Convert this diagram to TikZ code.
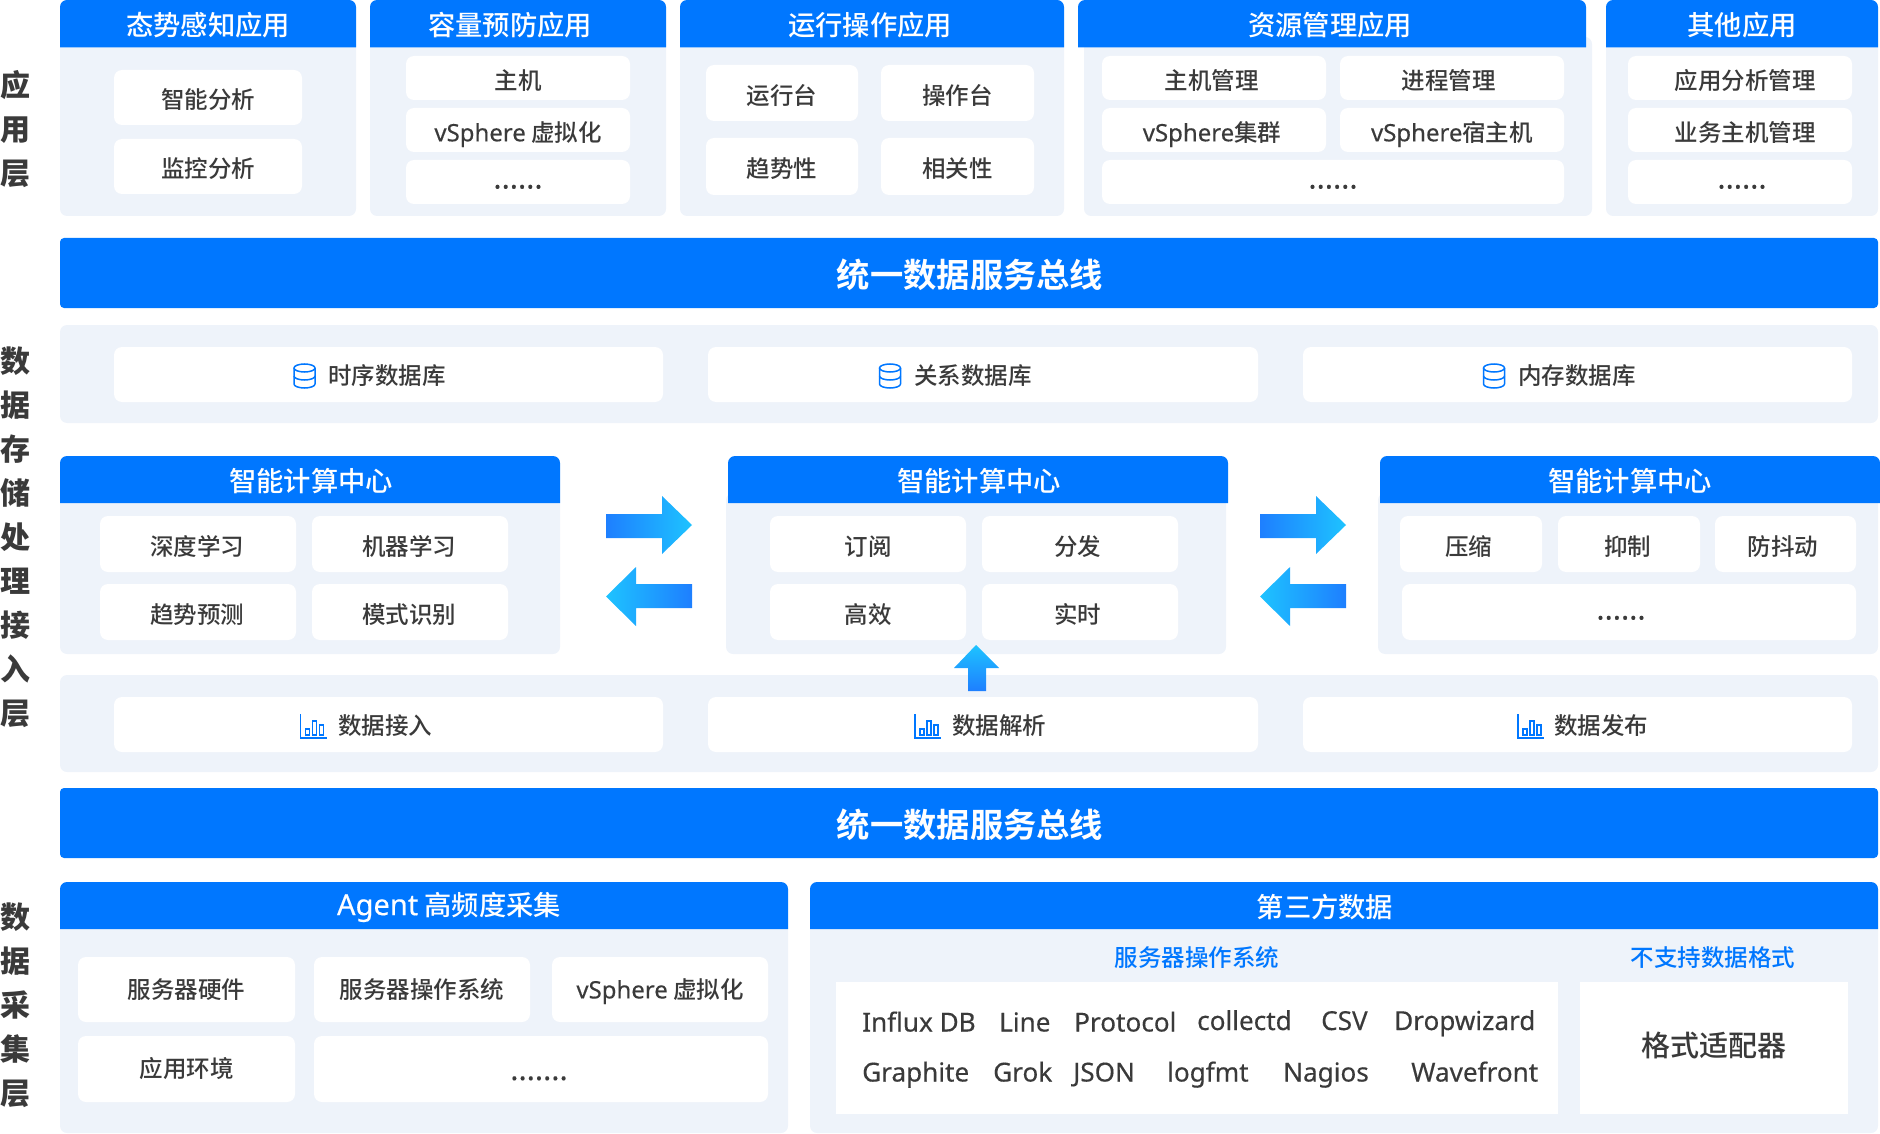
\documentclass[tikz,border=0pt]{standalone}
\usepackage{fontspec}
\setmainfont{Noto Sans CJK SC}[UprightFont=* Medium, BoldFont=* Bold]
\newfontfamily\latinfont{Noto Sans}[FakeBold=0.3, Scale=1.02]
\newfontfamily\labelfont{Noto Sans CJK SC}[UprightFont=* Black]
\definecolor{azulbus}{HTML}{0077FF}
\definecolor{fondopanel}{HTML}{EEF3FA}
\definecolor{textoitem}{HTML}{3A3A3A}
\definecolor{flechaclara}{HTML}{1EC3FF}
\definecolor{flechaazul}{HTML}{1E7FFF}
\newcommand{\puntos}[1]{\latinfont\bfseries\fontsize{30}{34}\selectfont #1}
\tikzset{
  dbicon/.pic={
    \draw[azulbus, line width=1.5pt] (0,-8) ellipse [x radius=10.5pt, y radius=4pt];
    \draw[azulbus, line width=1.5pt] (-10.5,-8) -- (-10.5,8) arc [start angle=180, end angle=360, x radius=10.5pt, y radius=4pt] -- (10.5,-8);
    \draw[azulbus, line width=1.5pt] (-10.5,0) arc [start angle=180, end angle=360, x radius=10.5pt, y radius=4pt];
  },
  charticon/.pic={
    \draw[azulbus, line width=1.5pt] (-13,-12) -- (-13,12) -- (13,12);
    \draw[azulbus, line width=1.2pt] (-8,3) rectangle (-4,9);
    \draw[azulbus, line width=1.2pt] (-1,-5) rectangle (3,9);
    \draw[azulbus, line width=1.2pt] (6,-1) rectangle (10,9);
  }
}
\begin{document}
\begin{tikzpicture}[x=1pt, y=-1pt]
  % Define box and title styles
  \tikzstyle{myboxpanel} = [fill=fondopanel, rectangle, rounded corners=7pt, inner sep=0pt, outer sep=0pt]
  \tikzstyle{myboxitem} = [fill=white, rectangle, rounded corners=8pt, inner sep=0pt, outer sep=0pt, text=textoitem, text height=26.6pt, text depth=4pt, font=\fontsize{23.5}{28}\selectfont]
  \tikzstyle{myboxdots} = [myboxitem, text height=17pt]
  \tikzstyle{myboxagent} = [myboxitem, text height=21.8pt]
  \tikzstyle{myboxflat} = [myboxitem, rounded corners=0pt]
  \tikzstyle{myboxbus} = [fill=azulbus, rectangle, rounded corners=4pt, inner sep=0pt, outer sep=0pt, minimum width=1818pt, minimum height=70pt]
  \tikzstyle{fancyhead} = [fill=azulbus, rounded corners=7pt]
  \tikzstyle{fancytitle} = [text=white, inner sep=0pt, font=\fontsize{27.3}{32}\selectfont]
  \tikzstyle{bustitle} = [text=white, inner sep=0pt, font=\bfseries\fontsize{33.3}{38}\selectfont]
  \tikzstyle{layertitle} = [text=textoitem, inner sep=0pt, align=center, font=\labelfont\fontsize{30}{44}\selectfont]
  \tikzstyle{subtitle} = [text=azulbus, inner sep=0pt, font=\fontsize{23.5}{28}\selectfont]
  \tikzstyle{rowtext} = [text=textoitem, inner sep=0pt, font=\fontsize{23.5}{28}\selectfont]
  \tikzstyle{fmttext} = [text=textoitem, inner sep=0pt, anchor=base west, font=\latinfont\fontsize{25.6}{30}\selectfont]

  \useasboundingbox (0,0) rectangle (1880,1134);

  % layer names
  \node[layertitle] (layerapp) at (16,129) {应\\用\\层};
  \node[layertitle] (layerdata) at (16,537) {数\\据\\存\\储\\处\\理\\接\\入\\层};
  \node[layertitle] (layercol) at (16,1005) {数\\据\\采\\集\\层};

  % application layer
  \node[myboxpanel, minimum width=296pt, minimum height=179pt] (panelsit) at (208,126.5) {};
  \fill[fancyhead] (60,47.5) -- (60,0) -- (356,0) [sharp corners] -- (356,47.5) -- cycle;
  \node[fancytitle] (titlesit) at (208,25) {态势感知应用};
  \node[myboxitem, minimum width=188pt, minimum height=55pt] (itemsit1) at (208,97.5) {智能分析};
  \node[myboxitem, minimum width=188pt, minimum height=55pt] (itemsit2) at (208,166.5) {监控分析};

  \node[myboxpanel, minimum width=296pt, minimum height=179pt] (panelcap) at (518,126.5) {};
  \fill[fancyhead] (370,47.5) -- (370,0) -- (666,0) [sharp corners] -- (666,47.5) -- cycle;
  \node[fancytitle] (titlecap) at (510,25) {容量预防应用};
  \node[myboxitem, minimum width=224pt, minimum height=44pt] (itemcap1) at (518,78) {主机};
  \node[myboxitem, minimum width=224pt, minimum height=44pt] (itemcap2) at (518,130) {{\latinfont vSphere} 虚拟化};
  \node[myboxdots, minimum width=224pt, minimum height=44pt] (itemcap3) at (518,182) {\puntos{......}};

  \node[myboxpanel, minimum width=384pt, minimum height=179pt] (panelops) at (872,126.5) {};
  \fill[fancyhead] (680,47.5) -- (680,0) -- (1064,0) [sharp corners] -- (1064,47.5) -- cycle;
  \node[fancytitle] (titleops) at (870,25) {运行操作应用};
  \node[myboxitem, minimum width=152pt, minimum height=56pt] (itemops1) at (782,93) {运行台};
  \node[myboxitem, minimum width=153pt, minimum height=56pt] (itemops2) at (957.5,93) {操作台};
  \node[myboxitem, minimum width=152pt, minimum height=57pt] (itemops3) at (782,166.5) {趋势性};
  \node[myboxitem, minimum width=153pt, minimum height=57pt] (itemops4) at (957.5,166.5) {相关性};

  \node[myboxpanel, minimum width=508pt, minimum height=179pt] (panelres) at (1338,126.5) {};
  \fill[fancyhead] (1078,47.5) -- (1078,0) -- (1586,0) [sharp corners] -- (1586,47.5) -- cycle;
  \node[fancytitle] (titleres) at (1330,25) {资源管理应用};
  \node[myboxitem, minimum width=224pt, minimum height=44pt] (itemres1) at (1214,78) {\hspace*{-5pt}主机管理};
  \node[myboxitem, minimum width=224pt, minimum height=44pt] (itemres2) at (1452,78) {\hspace*{-7pt}进程管理};
  \node[myboxitem, minimum width=224pt, minimum height=44pt] (itemres3) at (1214,130) {\hspace*{-4pt}{\latinfont vSphere}集群};
  \node[myboxitem, minimum width=224pt, minimum height=44pt] (itemres4) at (1452,130) {{\latinfont vSphere}宿主机};
  \node[myboxdots, minimum width=462pt, minimum height=44pt] (itemres5) at (1333,182) {\puntos{......}};

  \node[myboxpanel, minimum width=272pt, minimum height=179pt] (paneloth) at (1742,126.5) {};
  \fill[fancyhead] (1606,47.5) -- (1606,0) -- (1878,0) [sharp corners] -- (1878,47.5) -- cycle;
  \node[fancytitle] (titleoth) at (1742,25) {其他应用};
  \node[myboxitem, minimum width=224pt, minimum height=44pt] (itemoth1) at (1740,78) {\hspace*{10pt}应用分析管理};
  \node[myboxitem, minimum width=224pt, minimum height=44pt] (itemoth2) at (1740,130) {\hspace*{10pt}业务主机管理};
  \node[myboxdots, minimum width=224pt, minimum height=44pt] (itemoth3) at (1740,182) {\hspace*{4pt}\puntos{......}};

  % upper bus
  \node[myboxbus] (busup) at (969,273) {};
  \node[bustitle] (busuptext) at (970,275) {统一数据服务总线};

  % storage row
  \node[myboxpanel, minimum width=1818pt, minimum height=98pt] (panelstore) at (969,374) {};
  \node[myboxitem, minimum width=549pt, minimum height=55pt] (itemstore1) at (388.5,374.5) {};
  \node[myboxitem, minimum width=550pt, minimum height=55pt] (itemstore2) at (983,374.5) {};
  \node[myboxitem, minimum width=549pt, minimum height=55pt] (itemstore3) at (1577.5,374.5) {};
  \pic at (304.5,376) {dbicon};
  \pic at (890,376) {dbicon};
  \pic at (1494,376) {dbicon};
  \node[rowtext] (textstore1) at (387,376) {时序数据库};
  \node[rowtext] (textstore2) at (973,376) {关系数据库};
  \node[rowtext] (textstore3) at (1577,376) {内存数据库};

  % computing row
  \node[myboxpanel, minimum width=500pt, minimum height=161pt] (panelleft) at (310,573.5) {};
  \fill[fancyhead] (60,503) -- (60,456) -- (560,456) [sharp corners] -- (560,503) -- cycle;
  \node[fancytitle] (titleleft) at (311,481) {智能计算中心};
  \node[myboxitem, minimum width=196pt, minimum height=56pt] (itemleft1) at (198,544) {\hspace*{-2pt}深度学习};
  \node[myboxitem, minimum width=196pt, minimum height=56pt] (itemleft2) at (410,544) {\hspace*{-2pt}机器学习};
  \node[myboxitem, minimum width=196pt, minimum height=56pt] (itemleft3) at (198,612) {\hspace*{-2pt}趋势预测};
  \node[myboxitem, minimum width=196pt, minimum height=56pt] (itemleft4) at (410,612) {\hspace*{-2pt}模式识别};

  \node[myboxpanel, minimum width=500pt, minimum height=161pt] (panelmid) at (976,573.5) {};
  \fill[fancyhead] (728,503) -- (728,456) -- (1228,456) [sharp corners] -- (1228,503) -- cycle;
  \node[fancytitle] (titlemid) at (979,481) {智能计算中心};
  \node[myboxitem, minimum width=196pt, minimum height=56pt] (itemmid1) at (868,544) {订阅};
  \node[myboxitem, minimum width=196pt, minimum height=56pt] (itemmid2) at (1080,544) {\hspace*{-5pt}分发};
  \node[myboxitem, minimum width=196pt, minimum height=56pt] (itemmid3) at (868,612) {高效};
  \node[myboxitem, minimum width=196pt, minimum height=56pt] (itemmid4) at (1080,612) {\hspace*{-5pt}实时};

  \node[myboxpanel, minimum width=500pt, minimum height=161pt] (panelright) at (1628,573.5) {};
  \fill[fancyhead] (1380,503) -- (1380,456) -- (1880,456) [sharp corners] -- (1880,503) -- cycle;
  \node[fancytitle] (titleright) at (1630,481) {智能计算中心};
  \node[myboxitem, minimum width=142pt, minimum height=56pt] (itemright1) at (1471,544) {\hspace*{-5pt}压缩};
  \node[myboxitem, minimum width=142pt, minimum height=56pt] (itemright2) at (1629,544) {\hspace*{-3pt}抑制};
  \node[myboxitem, minimum width=141pt, minimum height=56pt] (itemright3) at (1785.5,544) {\hspace*{-5pt}防抖动};
  \node[myboxdots, minimum width=454pt, minimum height=56pt, text height=19pt] (itemright4) at (1629,612) {\hspace*{-16pt}\puntos{......}};

  % block arrows
  \shade[left color=flechaazul, middle color=flechaazul, right color=flechaclara] (606,514) -- (662,514) -- (662,496) -- (692,525) -- (662,554) -- (662,538) -- (606,538) -- cycle;
  \shade[left color=flechaclara, middle color=flechaazul, right color=flechaazul] (692,584) -- (636,584) -- (636,567) -- (606,596.5) -- (636,626) -- (636,608) -- (692,608) -- cycle;
  \shade[left color=flechaazul, middle color=flechaazul, right color=flechaclara] (1260,514) -- (1316,514) -- (1316,496) -- (1346,525) -- (1316,554) -- (1316,538) -- (1260,538) -- cycle;
  \shade[left color=flechaclara, middle color=flechaazul, right color=flechaazul] (1346,584) -- (1290,584) -- (1290,567) -- (1260,596.5) -- (1290,626) -- (1290,608) -- (1346,608) -- cycle;

  % ingest row
  \node[myboxpanel, minimum width=1818pt, minimum height=97pt] (panelingest) at (969,723.5) {};
  \node[myboxitem, minimum width=549pt, minimum height=55pt] (itemingest1) at (388.5,724.5) {};
  \node[myboxitem, minimum width=550pt, minimum height=55pt] (itemingest2) at (983,724.5) {};
  \node[myboxitem, minimum width=549pt, minimum height=55pt] (itemingest3) at (1577.5,724.5) {};
  \pic at (313.5,726) {charticon};
  \pic at (928,726) {charticon};
  \pic at (1531,726) {charticon};
  \node[rowtext] (textingest1) at (385,726) {数据接入};
  \node[rowtext] (textingest2) at (999,726) {数据解析};
  \node[rowtext] (textingest3) at (1601,726) {数据发布};
  \shade[top color=flechaclara, bottom color=flechaazul] (968,691) -- (968,668) -- (954,668) -- (976,645) -- (999,668) -- (986,668) -- (986,691) -- cycle;

  % lower bus
  \node[myboxbus] (busdown) at (969,823) {};
  \node[bustitle] (busdowntext) at (970,825) {统一数据服务总线};

  % collection layer
  \node[myboxpanel, minimum width=728pt, minimum height=214pt] (panelagent) at (424,1026) {};
  \fill[fancyhead] (60,929) -- (60,882) -- (788,882) [sharp corners] -- (788,929) -- cycle;
  \node[fancytitle] (titleagent) at (449,907) {{\latinfont\fontsize{28.5}{32}\selectfont Agent} 高频度采集};
  \node[myboxagent, minimum width=217pt, minimum height=65pt] (itemagent1) at (186.5,989.5) {服务器硬件};
  \node[myboxagent, minimum width=216pt, minimum height=65pt] (itemagent2) at (422,989.5) {服务器操作系统};
  \node[myboxagent, minimum width=216pt, minimum height=65pt] (itemagent3) at (660,989.5) {{\latinfont vSphere} 虚拟化};
  \node[myboxagent, minimum width=217pt, minimum height=66pt] (itemagent4) at (186.5,1069) {应用环境};
  \node[myboxagent, minimum width=454pt, minimum height=66pt, text height=26pt] (itemagent5) at (541,1069) {\hspace*{-4pt}\puntos{.......}};

  \node[myboxpanel, minimum width=1068pt, minimum height=214pt] (panelthird) at (1344,1026) {};
  \fill[fancyhead] (810,929) -- (810,882) -- (1878,882) [sharp corners] -- (1878,929) -- cycle;
  \node[fancytitle] (titlethird) at (1325,907) {第三方数据};
  \node[subtitle] (subos) at (1197,958) {服务器操作系统};
  \node[subtitle] (subfmt) at (1713,958) {不支持数据格式};
  \node[myboxflat, minimum width=722pt, minimum height=132pt] (boxformats) at (1197,1048) {};
  \node[myboxflat, minimum width=268pt, minimum height=132pt, text height=21pt, font=\fontsize{29}{34}\selectfont] (boxadapter) at (1714,1048) {格式适配器};
  \node[fmttext] (fmt1) at (862,1031.5) {Influx DB};
  \node[fmttext] (fmt2) at (999,1031.5) {Line};
  \node[fmttext] (fmt3) at (1074,1031.5) {Protocol};
  \node[fmttext] (fmt4) at (1197,1030) {collectd};
  \node[fmttext] (fmt5) at (1321,1030) {CSV};
  \node[fmttext] (fmt6) at (1394,1030) {Dropwizard};
  \node[fmttext] (fmt7) at (862,1081.5) {Graphite};
  \node[fmttext] (fmt8) at (993,1081.5) {Grok};
  \node[fmttext] (fmt9) at (1073,1081.5) {JSON};
  \node[fmttext] (fmt10) at (1167,1081.5) {logfmt};
  \node[fmttext] (fmt11) at (1283,1081.5) {Nagios};
  \node[fmttext] (fmt12) at (1411,1081.5) {Wavefront};
\end{tikzpicture}
\end{document}
